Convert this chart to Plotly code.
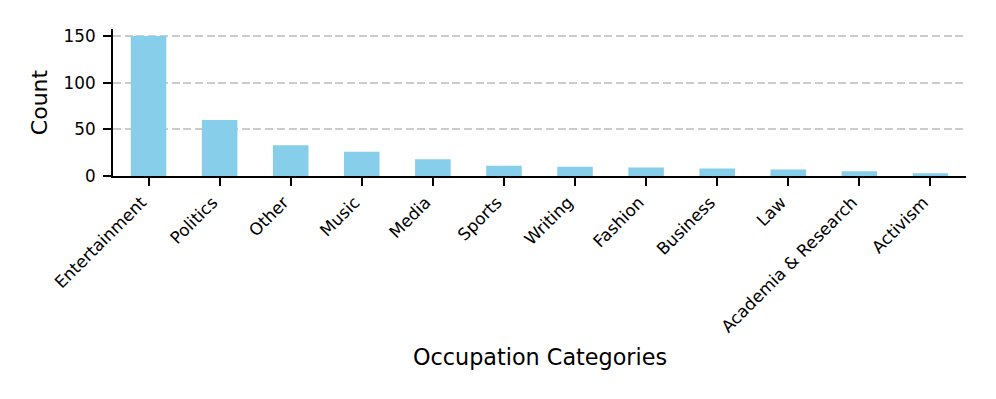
import plotly.graph_objects as go

categories = ["Entertainment", "Politics", "Other", "Music", "Media", "Sports",
              "Writing", "Fashion", "Business", "Law", "Academia & Research", "Activism"]
counts = [150, 60, 33, 26, 18, 11, 10, 9, 8, 7, 5, 3]
y_ticks = [0, 50, 100, 150]

FONT = "DejaVu Sans"

fig = go.Figure(go.Bar(
    x=categories, y=counts, width=0.5,
    marker=dict(color="#87CEEB", line=dict(width=0)),
))

fig.update_layout(
    width=988, height=391,
    margin=dict(l=105, r=30, t=21, b=223),
    paper_bgcolor="white", plot_bgcolor="white",
    showlegend=False,
    font=dict(family=FONT, color="black", size=16.8),
    xaxis=dict(
        type="category", range=[-0.5, 11.5],
        showline=True, linecolor="black", linewidth=2,
        ticks="outside", ticklen=8, tickwidth=2, tickcolor="black",
        tickangle=-45, tickfont=dict(family=FONT, size=16.8, color="black"),
        ticklabelshift=-7,
        showgrid=False, zeroline=False, automargin=False,
    ),
    yaxis=dict(
        range=[0, 157.5], tickvals=y_ticks,
        showline=True, linecolor="black", linewidth=2,
        ticks="outside", ticklen=8, tickwidth=2, tickcolor="black",
        tickfont=dict(family=FONT, size=16.8, color="black"),
        ticklabelstandoff=4,
        showgrid=True, gridcolor="#cccccc", gridwidth=1.6, griddash="8px,3.7px",
        zeroline=False, automargin=False,
    ),
    annotations=[
        dict(text="Count", xref="paper", yref="paper", x=-0.086, y=0.5,
             xanchor="center", yanchor="middle", textangle=-90, showarrow=False,
             font=dict(family=FONT, size=22, color="black")),
        dict(text="Occupation Categories", xref="paper", yref="paper", x=0.5, y=-1.234,
             xanchor="center", yanchor="middle", showarrow=False,
             font=dict(family=FONT, size=22.3, color="black")),
    ],
)

fig.write_html("out.html")
